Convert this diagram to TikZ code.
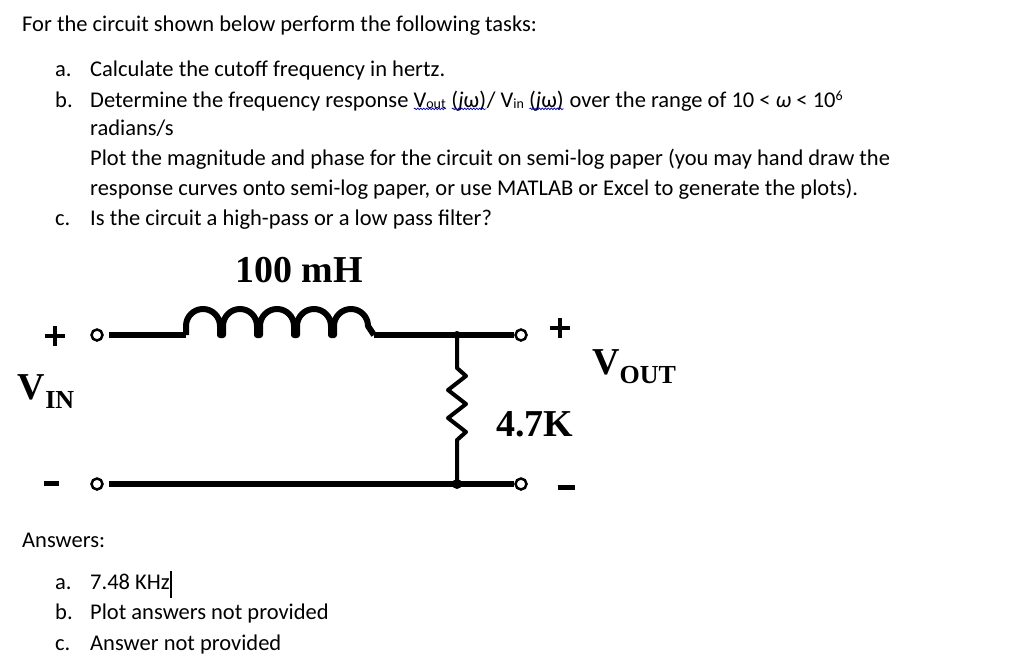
\documentclass[tikz,border=0pt]{standalone}
\usepackage{fontspec}
\setmainfont{Carlito}
\newfontfamily\circfont{Liberation Serif}
\usetikzlibrary{decorations.pathmorphing}
\newlength\sqw
\newcommand\squig[1]{\leavevmode\setbox0\hbox{#1}\setlength\sqw{\wd0}\rlap{\copy0}\raisebox{-3pt}{\tikz[x=1pt,y=1pt]\draw[blue!75!black,line width=0.7pt,decorate,decoration={snake,amplitude=0.8pt,segment length=3pt}] (0,0)--(\sqw,0);}}
\newcommand\plusgl{\rlap{\rule[5pt]{20pt}{4.5pt}}\hspace{8pt}\rule[-3pt]{4.5pt}{20pt}\hspace{8pt}}
\begin{document}
\begin{tikzpicture}[x=1pt,y=-1pt,
  txt/.style={anchor=base west,inner sep=0,font=\fontsize{22.5}{24}\selectfont},
  lbl/.style={inner sep=0,font=\circfont\bfseries\fontsize{38}{40}\selectfont},
  sgn/.style={inner sep=0},
  wire/.style={line width=6pt},
  term/.style={circle,draw,line width=2.5pt,fill=white,inner sep=0,minimum size=11pt}]
\useasboundingbox (0,0) rectangle (1024,661);
% text
\node[txt] (t0) at (22,32) {For the circuit shown below perform the following tasks:};
\node[txt] (la) at (55,77) {a.};
\node[txt] (ta) at (90,77) {Calculate the cutoff frequency in hertz.};
\node[txt] (lb) at (55,107) {b.};
\node[txt] (tb) at (90,107) {Determine the frequency response \squig{V\raisebox{-1pt}{\fontsize{14}{14}\selectfont out}} \squig{(\emph{j}ω)}/ V\raisebox{-1pt}{\fontsize{14}{14}\selectfont in} \squig{(\emph{j}ω)} over the range of 10 < \emph{ω} < 10\raisebox{7pt}{\fontsize{14}{14}\selectfont 6}};
\node[txt] (tb2) at (90,135) {radians/s};
\node[txt] (tb3) at (90,165) {Plot the magnitude and phase for the circuit on semi-log paper (you may hand draw the};
\node[txt] (tb4) at (90,195) {response curves onto semi-log paper, or use MATLAB or Excel to generate the plots).};
\node[txt] (lc) at (55,225) {c.};
\node[txt] (tc) at (90,225) {Is the circuit a high-pass or a low pass filter?};
\node[txt] (ans) at (22,547) {Answers:};
\node[txt] (a1) at (55,589) {a.};
\node[txt] (a1t) at (90,589) {7.48 KHz};
\draw[line width=1.2pt] (a1t.north east) ++(1,-2) -- ++(0,27);
\node[txt] (b1) at (55,619) {b.};
\node[txt] (b1t) at (90,619) {Plot answers not provided};
\node[txt] (c1) at (55,650) {c.};
\node[txt] (c1t) at (90,650) {Answer not provided};
% circuit
\node[term] (i1) at (97,335) {};
\node[term] (i2) at (97,484) {};
\node[term] (o1) at (521,335) {};
\node[term] (o2) at (521,484) {};
\coordinate (j1) at (457,335);
\coordinate (j2) at (457,484);
\coordinate (L1) at (186,335);
\coordinate (L2) at (374,335);
\coordinate (R1) at (457,368);
\coordinate (R2) at (457,455);
\draw[wire] (i1.east) ++(5,0) -- (L1);
\draw[wire,line join=round] (L1) -- ++(0,-9)
  arc[start angle=180,end angle=360,radius=17] -- ++(0,9) -- ++(3,0) -- ++(0,-9)
  arc[start angle=180,end angle=360,radius=17] -- ++(0,9) -- ++(3,0) -- ++(0,-9)
  arc[start angle=180,end angle=360,radius=17] -- ++(0,9) -- ++(3,0) -- ++(0,-9)
  arc[start angle=180,end angle=360,radius=17] -- ++(0,9) -- ++(3,0) -- ++(0,-9)
  arc[start angle=180,end angle=360,radius=17] -- (L2);
\draw[wire] (L2) -- (j1) -- (o1);
\draw[line width=4pt,line join=round] (j1) -- (R1) -- ++(9,8) -- ++(-18,14) -- ++(18,14) -- ++(-18,14) -- ++(18,14) -- ++(-9,8) -- (j2);
\draw[wire] (i2.east) ++(5,0) -- (j2) -- (o2);
\fill (j1) circle (4pt);
\fill (j2) circle (5pt);
\node[sgn] (p1) at (51,336) {\plusgl};
\node[sgn] (m1) at (51,483) {\rule{15pt}{5pt}};
\node[sgn] (p2) at (556,328) {\plusgl};
\node[sgn] (m2) at (566,487) {\rule{17pt}{5pt}};
\node[lbl] (vin) at (46,392) {V\raisebox{-9pt}{\fontsize{26}{26}\selectfont IN}};
\node[lbl] (vout) at (634,367) {V\raisebox{-9pt}{\fontsize{26}{26}\selectfont OUT}};
\node[lbl] (rl) at (535,424) {4.7K};
\node[lbl] (ll) at (299,270) {100 mH};
\end{tikzpicture}
\end{document}
